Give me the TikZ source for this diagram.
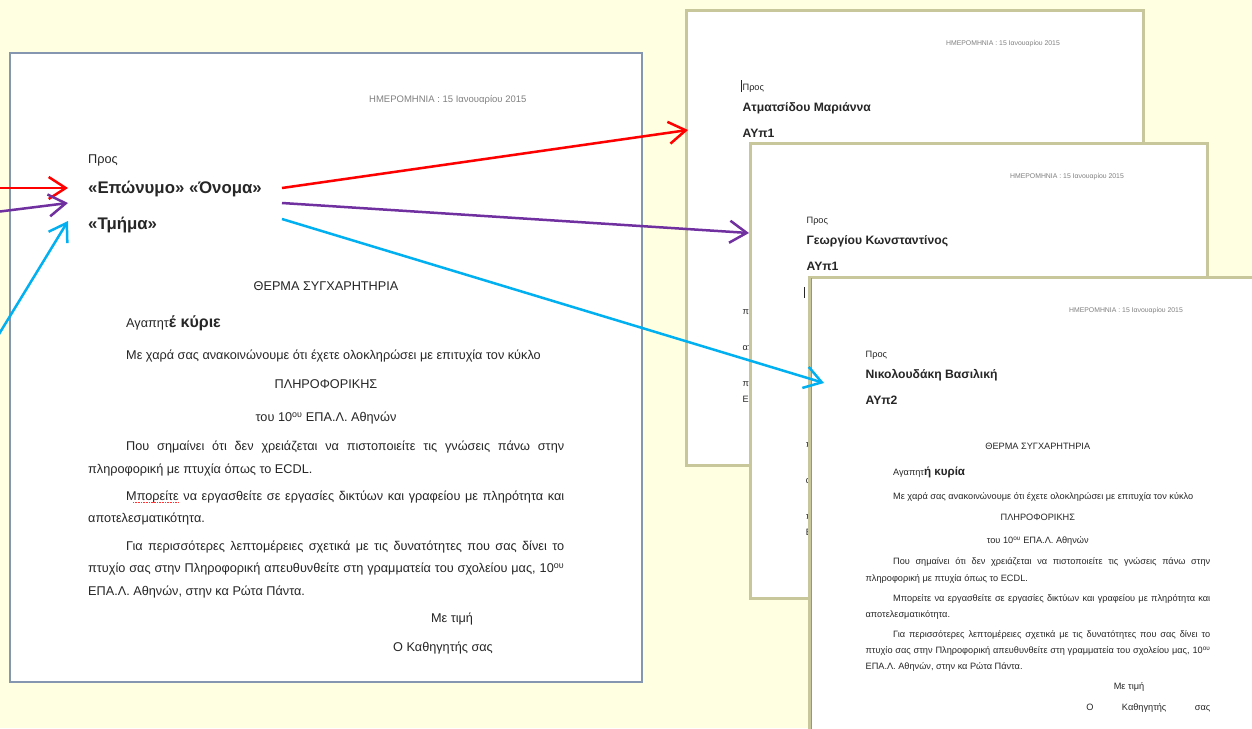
\documentclass[tikz,border=0pt]{standalone}
\usepackage{fontspec}
\setmainfont{Liberation Sans}
\usetikzlibrary{arrows.meta}

\definecolor{paper}{HTML}{FFFFE1}
\definecolor{mainborder}{HTML}{8496B0}
\definecolor{khaki}{HTML}{C8C79B}
\definecolor{ink}{HTML}{262626}
\definecolor{dategray}{HTML}{808080}
\definecolor{arrowred}{HTML}{FF0000}
\definecolor{arrowpurple}{HTML}{7030A0}
\definecolor{arrowcyan}{HTML}{00B0F0}

% head of a letter, from the top left corner of its page
\newcommand{\letterhead}[3]{%
    \node[datetext] (#1date) at (359,44) {ΗΜΕΡΟΜΗΝΙΑ : 15 Ιανουαρίου 2015};
    \node[bodytext] (#1to) at (78,105) {Προς};
    \node[nametext] (#1name) at (78,135) {#2};
    \node[nametext] (#1dept) at (78,171) {#3};
}
% rest of the letter
\newcommand{\letterbody}[3]{%
    \node[bodytext,anchor=mid] (#1title) at (316,232) {ΘΕΡΜΑ ΣΥΓΧΑΡΗΤΗΡΙΑ};
    \node[bodytext] (#1dear) at (116,269) {Αγαπητ{\bfseries\fontsize{16}{19}\selectfont #2}};
    \node[bodytext] (#1line1) at (116,301) {Με χαρά σας ανακοινώνουμε ότι έχετε ολοκληρώσει με επιτυχία τον κύκλο};
    \node[bodytext,anchor=mid] (#1course) at (316,330) {ΠΛΗΡΟΦΟΡΙΚΗΣ};
    \node[bodytext,anchor=mid] (#1school) at (316,363) {του 10\textsuperscript{ου} ΕΠΑ.Λ. Αθηνών};
    \node[bodytext] (#1line2) at (116,392) {\makebox[438pt][s]{Που σημαίνει ότι δεν χρειάζεται να πιστοποιείτε τις γνώσεις πάνω στην}};
    \node[bodytext] (#1line3) at (78,415) {πληροφορική με πτυχία όπως το ECDL.};
    \node[bodytext] (#1line4) at (116,442) {\makebox[438pt][s]{Μπορείτε να εργασθείτε σε εργασίες δικτύων και γραφείου με πληρότητα και}};
    \node[bodytext] (#1line5) at (78,464) {αποτελεσματικότητα.};
    \node[bodytext] (#1line6) at (116,492) {\makebox[438pt][s]{Για περισσότερες λεπτομέρειες σχετικά με τις δυνατότητες που σας δίνει το}};
    \node[bodytext] (#1line7) at (78,514) {\makebox[476pt][s]{πτυχίο σας στην Πληροφορική απευθυνθείτε στη γραμματεία του σχολείου μας, 10\textsuperscript{ου}}};
    \node[bodytext] (#1line8) at (78,537) {ΕΠΑ.Λ. Αθηνών, στην κα Ρώτα Πάντα.};
    \node[bodytext,anchor=mid] (#1regards) at (442,564) {Με τιμή};
    \node[bodytext] (#1sign) at (383,593) {#3};
}

\begin{document}
\begin{tikzpicture}[x=1pt,y=-1pt,
    bodytext/.style={inner sep=0pt,anchor=mid west,yshift=-3pt,text=ink,font=\fontsize{12.7}{15}\selectfont},
    nametext/.style={bodytext,font=\bfseries\fontsize{16.8}{20}\selectfont},
    datetext/.style={bodytext,text=dategray,font=\fontsize{9.5}{11}\selectfont},
    mainpage/.style={draw=mainborder,line width=1.2pt,fill=white},
    smallpage/.style={draw=khaki,line width=3pt,fill=white},
    arrowline/.style={line width=2.5pt,-{Straight Barb[length=17pt,width=22pt]}}]
    \clip (0,0) rectangle (1252,728);
    \fill[paper] (0,0) rectangle (1252,728);

    % the letter with the merge fields
    \begin{scope}[shift={(10,53)}]
        \draw[mainpage] (0,0) rectangle (632,629);
        \letterhead{m}{«Επώνυμο» «Όνομα»}{«Τμήμα»}
        \letterbody{m}{έ κύριε}{Ο Καθηγητής σας}
        \draw[red!80,densely dotted,line width=0.6pt] (123,449) -- (168,449);
    \end{scope}

    % the merged letters, each one half hidden by the next
    \begin{scope}[shift={(686,10)},scale=0.724,transform shape]
        \draw[smallpage] (0,0) rectangle (632,629);
        \draw[ink] (76,97) -- (76,113);
        \letterhead{a}{Ατματσίδου Μαριάννα}{ΑΥπ1}
        \node[bodytext] (aline3) at (78,415) {πλ};
        \node[bodytext] (aline5) at (78,464) {απ};
        \node[bodytext] (aline7) at (78,514) {πτ};
        \node[bodytext] (aline8) at (78,537) {ΕΠ};
    \end{scope}
    \begin{scope}[shift={(750,143)},scale=0.724,transform shape]
        \draw[smallpage] (0,0) rectangle (632,629);
        \draw[ink,line width=1pt] (75,199) -- (75,214);
        \letterhead{b}{Γεωργίου Κωνσταντίνος}{ΑΥπ1}
        \node[bodytext] (bline3) at (77,415) {πλ};
        \node[bodytext] (bline5) at (77,464) {απ};
        \node[bodytext] (bline7) at (77,514) {πτ};
        \node[bodytext] (bline8) at (77,537) {ΕΠ};
    \end{scope}
    \begin{scope}[shift={(809,277)},scale=0.724,transform shape]
        \draw[smallpage] (0,0) rectangle (632,629);
        \draw[mainborder,line width=1.2pt] (3,2) -- (3,640);
        \letterhead{c}{Νικολουδάκη Βασιλική}{ΑΥπ2}
        \letterbody{c}{ή κυρία}{\makebox[171pt][s]{Ο Καθηγητής σας}}
    \end{scope}

    \coordinate (redin) at (-4,188);
    \coordinate (redtip) at (68,188);
    \coordinate (purplein) at (-4,212);
    \coordinate (purpletip) at (68,203);
    \coordinate (cyanin) at (-4,339);
    \coordinate (cyantip) at (68,221);
    \coordinate (redout) at (282,188);
    \coordinate (redend) at (688,130);
    \coordinate (purpleout) at (282,203);
    \coordinate (purpleend) at (749,233);
    \coordinate (cyanout) at (282,219);
    \coordinate (cyanend) at (824,383);

    \draw[arrowline,arrowred] (redin) -- (redtip);
    \draw[arrowline,arrowpurple] (purplein) -- (purpletip);
    \draw[arrowline,arrowcyan] (cyanin) -- (cyantip);
    \draw[arrowline,arrowred] (redout) -- (redend);
    \draw[arrowline,arrowpurple] (purpleout) -- (purpleend);
    \draw[arrowline,arrowcyan] (cyanout) -- (cyanend);
\end{tikzpicture}
\end{document}
